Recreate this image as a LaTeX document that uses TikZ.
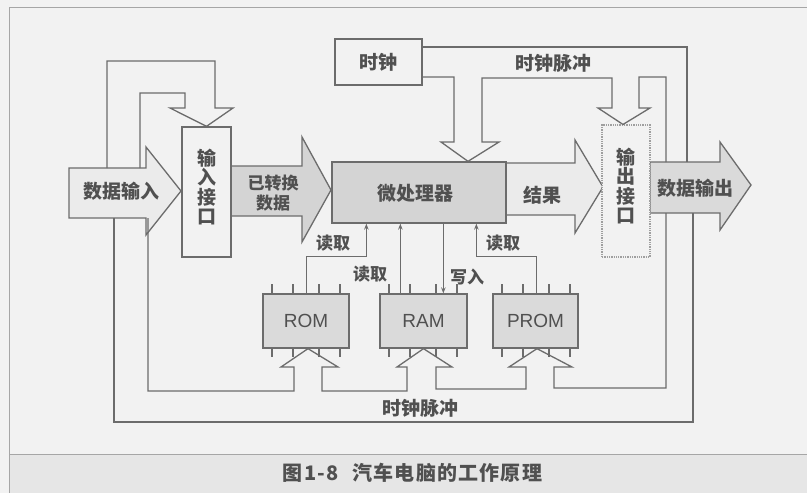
\documentclass[tikz,border=0pt]{standalone}
\usepackage{fontspec}
\setmainfont{Noto Sans CJK SC}
\newfontfamily\latinsans{Liberation Sans}
\newfontfamily\capfont[LetterSpace=6]{Noto Sans CJK SC}
\usetikzlibrary{arrows.meta,calc}
\definecolor{ln}{HTML}{6C6C6C}
\definecolor{tx}{HTML}{505050}
\definecolor{paper}{HTML}{F2F2F2}
\definecolor{band}{HTML}{E6E6E6}
\definecolor{fdark}{HTML}{D4D4D4}
\definecolor{fmid}{HTML}{DADADA}
\definecolor{flight}{HTML}{EBEBEB}
\tikzset{
  pipe/.style={draw=ln, line width=1.3pt, line join=miter},
  blockarrow/.style={draw=ln, line width=1.3pt, line join=miter},
  box/.style={draw=ln, line width=1.3pt, inner sep=0pt, text=tx},
  lbl/.style={text=tx, font=\bfseries\fontsize{19}{20}\selectfont, inner sep=0pt},
  small/.style={text=tx, font=\bfseries\fontsize{17}{18}\selectfont, inner sep=0pt},
  chip/.style={box, fill=fmid, minimum height=54pt, font=\latinsans\fontsize{19}{20}\selectfont},
  sig/.style={draw=ln, line width=1.1pt, -{Stealth[length=6pt,width=4.5pt]}},
  pin/.style={draw=ln, line width=1.3pt},
  frameline/.style={draw=gray!70, line width=0.8pt}
}
\begin{document}
\begin{tikzpicture}[x=1pt,y=-1pt]
\useasboundingbox (0,0) rectangle (807,493);
\fill[paper] (0,0) rectangle (807,493);
\fill[band] (9,454) rectangle (807,493);
\draw[frameline] (9,493) -- (9,7) -- (807,7);
\draw[frameline] (9,454) -- (807,454);

% block arrows
\draw[blockarrow, fill=flight] (69,168) -- (146,168) -- (146,147) -- (181,191) -- (146,235) -- (146,218) -- (69,218) -- cycle;
\draw[blockarrow, fill=fdark] (231,166) -- (302,166) -- (302,137) -- (331,190) -- (302,242) -- (302,216) -- (231,216) -- cycle;
\draw[blockarrow, fill=flight] (506,163) -- (575,163) -- (575,140) -- (603,187) -- (575,233) -- (575,215) -- (506,215) -- cycle;
\draw[blockarrow, fill=fmid] (650,162) -- (720,162) -- (720,142) -- (751,185) -- (720,230) -- (720,213) -- (650,213) -- cycle;

% nodes
\node[box, minimum width=87pt, minimum height=46pt, lbl] (clk) at (378.5,62) {时钟};
\node[box, fill=fdark, minimum width=174pt, minimum height=61pt] (cpu) at (419,192.5) {};
\node[box, fill=paper, minimum width=49pt, minimum height=130pt] (inif) at (206.5,192) {};
\node[box, draw=gray!75, densely dotted, line width=1.1pt, fill=paper, minimum width=48pt, minimum height=132pt] (outif) at (626,191) {};
\node[chip, minimum width=86pt] (rom) at (306,321) {ROM};
\node[chip, minimum width=87pt] (ram) at (423.5,321) {RAM};
\node[chip, minimum width=85pt] (prom) at (535.5,321) {PROM};

% top-left feedback pipe
\draw[pipe] (107,168) -- (107,61) -- (215,61) -- (215,108) -- (233,108) -- (inif.north) -- (170,108) -- (185,108) -- (185,93) -- (140,93) -- (140,168);

% clock pipe
\draw[pipe] (clk.east |- 0,47) -- (687,47) -- (687,162);
\draw[pipe] (clk.east |- 0,77) -- (454,77) -- (454,142) -- (441,142) -- (cpu.north -| 468,0) -- (499,142) -- (482,142) -- (482,78) -- (612,78) -- (612,108) -- (598,108) -- (outif.north -| 623,0) -- (650,108) -- (639,108) -- (639,77) -- (666,77) -- (666,162);

% bottom clock pipe
\draw[pipe] (114,218) -- (114,422) -- (693,422) -- (693,213);
\draw[pipe] (148,218) -- (148,391) -- (294,391) -- (294,367) -- (281,367) -- ([xshift=2pt]rom.south) -- (338,367) -- (322,367) -- (322,391) -- (407,391) -- (407,367) -- (397,367) -- (ram.south) -- (452,367) -- (436,367) -- (436,389) -- (526,389) -- (526,367) -- (509,367) -- ([xshift=1.5pt]prom.south) -- (572,367) -- (554,367) -- (554,388) -- (666,388) -- (666,213);

% read / write signals
\draw[sig] ([xshift=44pt]rom.north west) -- ++(0,-37) -| ([xshift=35pt]cpu.south west);
\draw[sig] ([xshift=21pt]ram.north west) -- ([xshift=21pt]ram.north west |- cpu.south);
\draw[sig] ([xshift=112pt]cpu.south west) -- ([xshift=112pt]cpu.south west |- ram.north);
\draw[sig] ([xshift=44pt]prom.north west) -- ++(0,-37) -| ([xshift=145pt]cpu.south west);

% chip pins (top and bottom)
\foreach \px in {272,293,319,340, 389,410,436,457, 502,523,549,570}{
  \draw[pin] (\px,284) -- (\px,294);
  \draw[pin] (\px,348) -- (\px,357);
}

% texts
\node[lbl] (tin) at (121,191) {数据输入};
\node[lbl, align=center, font=\bfseries\fontsize{19}{19.5}\selectfont] (tinif) at (206.5,187) {输\\入\\接\\口};
\node[small, align=center, font=\bfseries\fontsize{17}{20.5}\selectfont] (tconv) at (273,193) {已转换\\数据};
\node[lbl] (tcpu) at (415,193) {微处理器};
\node[lbl] (tres) at (542,195) {结果};
\node[lbl, align=center, font=\bfseries\fontsize{19}{19.5}\selectfont] (toutif) at (625.5,186) {输\\出\\接\\口};
\node[lbl] (tout) at (695,188) {数据输出};
\node[lbl] (tpulse1) at (553,63) {时钟脉冲};
\node[lbl] (tpulse2) at (420,408) {时钟脉冲};
\node[small] (tr1) at (333,243) {读取};
\node[small] (tr2) at (370,274) {读取};
\node[small] (tw) at (467,277) {写入};
\node[small] (tr3) at (503,243) {读取};
\node[text=tx, inner sep=0pt, font=\capfont\bfseries\fontsize{20}{22}\selectfont] (cap) at (412.5,473) {图1-8\hspace{14pt}汽车电脑的工作原理};
\end{tikzpicture}
\end{document}
